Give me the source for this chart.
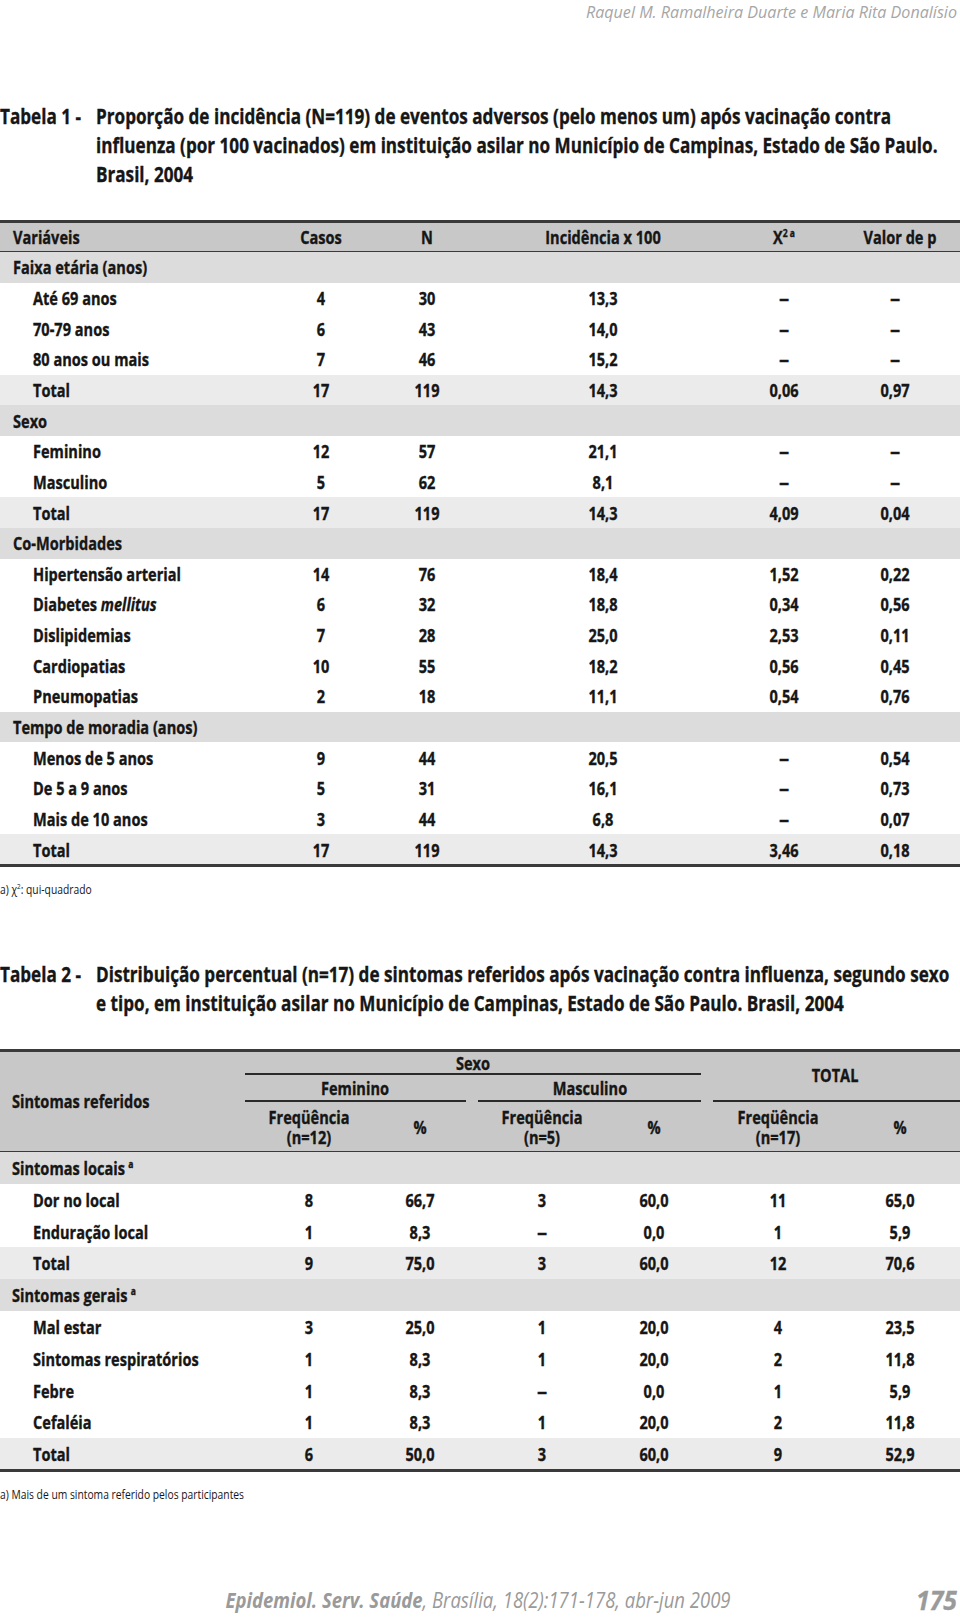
import React from "react";

const FONT = '"Open Sans", "DejaVu Sans", sans-serif';

// Tabela 1
const t1Variaveis = [
  "Faixa etária (anos)", "Até 69 anos", "70-79 anos", "80 anos ou mais", "Total",
  "Sexo", "Feminino", "Masculino", "Total",
  "Co-Morbidades", "Hipertensão arterial", "Diabetes |mellitus", "Dislipidemias", "Cardiopatias", "Pneumopatias",
  "Tempo de moradia (anos)", "Menos de 5 anos", "De 5 a 9 anos", "Mais de 10 anos", "Total",
];
const t1Tipo = ["s", "i", "i", "i", "t", "s", "i", "i", "t", "s", "i", "i", "i", "i", "i", "s", "i", "i", "i", "t"];
const t1Casos = ["", "4", "6", "7", "17", "", "12", "5", "17", "", "14", "6", "7", "10", "2", "", "9", "5", "3", "17"];
const t1N = ["", "30", "43", "46", "119", "", "57", "62", "119", "", "76", "32", "28", "55", "18", "", "44", "31", "44", "119"];
const t1Incid = ["", "13,3", "14,0", "15,2", "14,3", "", "21,1", "8,1", "14,3", "", "18,4", "18,8", "25,0", "18,2", "11,1", "", "20,5", "16,1", "6,8", "14,3"];
const t1Chi = ["", "–", "–", "–", "0,06", "", "–", "–", "4,09", "", "1,52", "0,34", "2,53", "0,56", "0,54", "", "–", "–", "–", "3,46"];
const t1P = ["", "–", "–", "–", "0,97", "", "–", "–", "0,04", "", "0,22", "0,56", "0,11", "0,45", "0,76", "", "0,54", "0,73", "0,07", "0,18"];
const t1Cols = [321, 427, 603, 784, 895];

// Tabela 2
const t2Sintomas = [
  "Sintomas locais", "Dor no local", "Enduração local", "Total",
  "Sintomas gerais", "Mal estar", "Sintomas respiratórios", "Febre", "Cefaléia", "Total",
];
const t2Tipo = ["s", "i", "i", "t", "s", "i", "i", "i", "i", "t"];
const t2FemFreq = ["", "8", "1", "9", "", "3", "1", "1", "1", "6"];
const t2FemPct = ["", "66,7", "8,3", "75,0", "", "25,0", "8,3", "8,3", "8,3", "50,0"];
const t2MascFreq = ["", "3", "–", "3", "", "1", "1", "–", "1", "3"];
const t2MascPct = ["", "60,0", "0,0", "60,0", "", "20,0", "20,0", "0,0", "20,0", "60,0"];
const t2TotFreq = ["", "11", "1", "12", "", "4", "2", "1", "2", "9"];
const t2TotPct = ["", "65,0", "5,9", "70,6", "", "23,5", "11,8", "5,9", "11,8", "52,9"];
const t2Cols = [309, 420, 542, 654, 778, 900];

const BG = { h: "#c8c8c8", s: "#dcdcdc", t: "#ebebeb", i: "#ffffff" } as Record<string, string>;

const TITLE1 = "Proporção de incidência (N=119) de eventos adversos (pelo menos um) após vacinação contra";
const NOTE2 = "a) Mais de um sintoma referido pelos participantes";
const AUTHOR = "Raquel M. Ramalheira Duarte e Maria Rita Donalísio";

let ctx: CanvasRenderingContext2D | null = null;
const measure = (txt: string, font: string) => {
  if (!ctx) ctx = document.createElement("canvas").getContext("2d");
  if (!ctx) return 1;
  ctx.font = font;
  return ctx.measureText(txt).width || 1;
};

const T = ({ x, y, children, align = "left", size = 17, weight = 700, color = "#161616", sx = 1, style = {} }: any) => (
  <div
    style={{
      position: "absolute",
      left: x,
      top: y,
      transform:
        (align === "center" ? "translate(-50%,-50%)" : align === "right" ? "translate(-100%,-50%)" : "translateY(-50%)") +
        ` scaleX(${sx})`,
      transformOrigin: align === "center" ? "50% 50%" : align === "right" ? "100% 50%" : "0 50%",
      whiteSpace: "nowrap",
      fontFamily: FONT,
      fontSize: size,
      fontWeight: weight,
      color,
      lineHeight: 1,
      WebkitTextStroke: weight >= 700 ? `0.35px ${color}` : undefined,
      ...style,
    }}
  >
    {children}
  </div>
);

const Box = ({ x, y, w, h, bg }: any) => (
  <div style={{ position: "absolute", left: x, top: y, width: w, height: h, background: bg }} />
);

const label = (s: string) => {
  const parts = s.split("|");
  if (parts.length === 1) return s;
  return (
    <>
      {parts[0]}
      <i>{parts[1]}</i>
    </>
  );
};

export default function App() {
  const sb = 148 / measure("Hipertensão arterial", `700 17px "Open Sans"`);
  const st = 795 / measure(TITLE1, `700 21px "Open Sans"`);
  const sn = 244 / measure(NOTE2, `400 13px "Open Sans"`);
  const sa = 371 / measure(AUTHOR, `italic 400 17px "Open Sans"`);
  const sf =
    505 /
    (measure("Epidemiol. Serv. Saúde", `italic 700 21px "Open Sans"`) +
      measure(", Brasília, 18(2):171-178, abr-jun 2009", `italic 400 21px "Open Sans"`));
  const sp = 41 / measure("175", `italic 700 27px "Open Sans"`);

  const t1Top = 221;
  const t1HeadH = 31;
  const t1RowH = 30.65;
  const t2Top = 1050;
  const t2HeadH = 102;
  const t2RowH = 31.8;
  const t2Body = t2Top + t2HeadH;
  const dash = (v: string) => (v === "–" ? <span style={{ display: "inline-block", transform: "scaleX(1.4)" }}>–</span> : v);

  return (
    <div style={{ position: "absolute", left: 0, top: 0, width: 960, height: 1617, background: "#fff", overflow: "hidden" }}>
      <T x={957} y={11} align="right" size={17} weight={400} color="#a6a6a6" sx={sa} style={{ fontStyle: "italic" }}>
        {AUTHOR}
      </T>

      {/* Tabela 1 title */}
      <T x={0} y={116} size={21} sx={st}>Tabela 1 -</T>
      <T x={96} y={116} size={21} sx={st}>{TITLE1}</T>
      <T x={96} y={145} size={21} sx={st}>influenza (por 100 vacinados) em instituição asilar no Município de Campinas, Estado de São Paulo.</T>
      <T x={96} y={174} size={21} sx={st}>Brasil, 2004</T>

      {/* Tabela 1 */}
      <Box x={0} y={t1Top} w={960} h={t1HeadH} bg={BG.h} />
      <Box x={0} y={t1Top - 1} w={960} h={3} bg="#3a3a3a" />
      <Box x={0} y={t1Top + t1HeadH - 1} w={960} h={2} bg="#3a3a3a" />
      <T x={13} y={t1Top + 16} sx={sb}>Variáveis</T>
      {["Casos", "N", "Incidência x 100"].map((h, k) => (
        <T key={h} x={t1Cols[k]} y={t1Top + 16} align="center" sx={sb}>{h}</T>
      ))}
      <T x={t1Cols[3]} y={t1Top + 16} align="center" sx={sb}>
        X<sup style={{ fontSize: 10 }}>2 a</sup>
      </T>
      <T x={900} y={t1Top + 16} align="center" sx={sb}>Valor de p</T>
      {t1Variaveis.map((v, i) => {
        const y = t1Top + t1HeadH + i * t1RowH;
        const cy = y + t1RowH / 2;
        const tipo = t1Tipo[i];
        const vals = [t1Casos[i], t1N[i], t1Incid[i], t1Chi[i], t1P[i]];
        return (
          <React.Fragment key={i}>
            <Box x={0} y={y} w={960} h={t1RowH + 0.5} bg={BG[tipo]} />
            <T x={tipo === "s" ? 13 : 33} y={cy} sx={sb}>{label(v)}</T>
            {vals.map((val, k) => (
              <T key={k} x={t1Cols[k]} y={cy} align="center" sx={sb}>{dash(val)}</T>
            ))}
          </React.Fragment>
        );
      })}
      <Box x={0} y={t1Top + t1HeadH + 20 * t1RowH - 1} w={960} h={3} bg="#3a3a3a" />
      <T x={0} y={889} size={13} weight={400} sx={sn}>
        a) χ<sup style={{ fontSize: 8 }}>2</sup>: qui-quadrado
      </T>

      {/* Tabela 2 title */}
      <T x={0} y={974} size={21} sx={st}>Tabela 2 -</T>
      <T x={96} y={974} size={21} sx={st}>Distribuição percentual (n=17) de sintomas referidos após vacinação contra influenza, segundo sexo</T>
      <T x={96} y={1003} size={21} sx={st}>e tipo,  em instituição asilar no Município de Campinas, Estado de São Paulo. Brasil, 2004</T>

      {/* Tabela 2 */}
      <Box x={0} y={t2Top} w={960} h={t2HeadH} bg={BG.h} />
      <Box x={0} y={t2Top - 1} w={960} h={3} bg="#3a3a3a" />
      <Box x={0} y={t2Body - 1} w={960} h={2} bg="#3a3a3a" />
      <T x={473} y={1063} align="center" sx={sb}>Sexo</T>
      <Box x={245} y={1073} w={456} h={1.5} bg="#2a2a2a" />
      <T x={355} y={1088} align="center" sx={sb}>Feminino</T>
      <T x={590} y={1088} align="center" sx={sb}>Masculino</T>
      <T x={835} y={1075} align="center" sx={sb}>TOTAL</T>
      <Box x={245} y={1100} w={221} h={1.5} bg="#2a2a2a" />
      <Box x={478} y={1100} w={223} h={1.5} bg="#2a2a2a" />
      <Box x={713} y={1100} w={247} h={1.5} bg="#2a2a2a" />
      <T x={12} y={1101} sx={sb}>Sintomas referidos</T>
      {[
        ["(n=12)", 0],
        ["(n=5)", 2],
        ["(n=17)", 4],
      ].map(([n, k]: any) => (
        <React.Fragment key={k}>
          <T x={t2Cols[k]} y={1117} align="center" sx={sb}>Freqüência</T>
          <T x={t2Cols[k]} y={1137} align="center" sx={sb}>{n}</T>
          <T x={t2Cols[k + 1]} y={1127} align="center" sx={sb}>%</T>
        </React.Fragment>
      ))}
      {t2Sintomas.map((v, i) => {
        const y = t2Body + i * t2RowH;
        const cy = y + t2RowH / 2;
        const tipo = t2Tipo[i];
        const vals = [t2FemFreq[i], t2FemPct[i], t2MascFreq[i], t2MascPct[i], t2TotFreq[i], t2TotPct[i]];
        return (
          <React.Fragment key={i}>
            <Box x={0} y={y} w={960} h={t2RowH + 0.5} bg={BG[tipo]} />
            <T x={tipo === "s" ? 12 : 33} y={cy} sx={sb}>
              {v}
              {tipo === "s" && <sup style={{ fontSize: 10, marginLeft: 4 }}>a</sup>}
            </T>
            {vals.map((val, k) => (
              <T key={k} x={t2Cols[k]} y={cy} align="center" sx={sb}>{dash(val)}</T>
            ))}
          </React.Fragment>
        );
      })}
      <Box x={0} y={t2Body + 10 * t2RowH - 1} w={960} h={3} bg="#3a3a3a" />
      <T x={0} y={1494} size={13} weight={400} sx={sn}>{NOTE2}</T>

      {/* rodapé */}
      <T x={478} y={1600} align="center" size={21} weight={400} color="#9a9a9a" sx={sf} style={{ fontStyle: "italic" }}>
        <b>Epidemiol. Serv. Saúde</b>, Brasília, 18(2):171-178, abr-jun 2009
      </T>
      <T x={957} y={1599} align="right" size={27} weight={700} color="#9a9a9a" sx={sp} style={{ fontStyle: "italic" }}>
        175
      </T>
    </div>
  );
}
